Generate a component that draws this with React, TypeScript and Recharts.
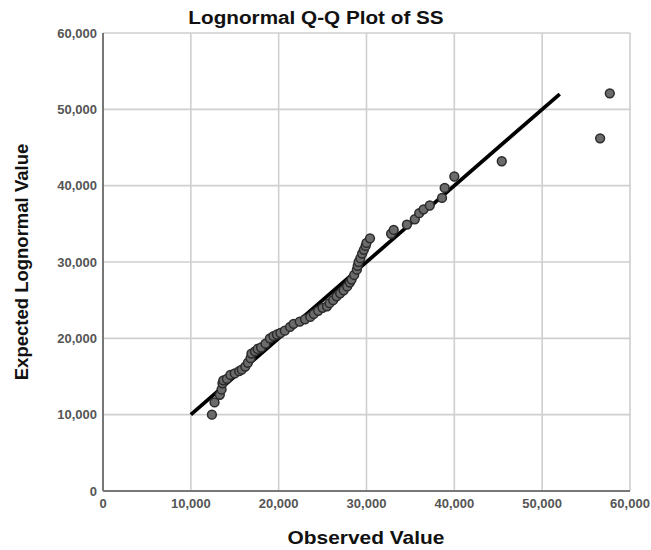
import { ScatterChart, Scatter, XAxis, YAxis, CartesianGrid, ReferenceLine } from 'recharts';

// observed SS values and the matching expected lognormal quantiles
const OBSERVED = [
  12400, 12700, 13300, 13500, 13600, 13700, 14100, 14500, 15000, 15500, 15800, 16200, 16500, 16800, 16900,
  17300, 17600, 18000, 18500, 19000, 19400, 19800, 20200, 20700, 21300, 21700, 22400, 23000, 23600, 24000,
  24500, 25000, 25500, 25800, 26200, 26600, 27000, 27400, 27800, 28100, 28300, 28600, 28900, 29000, 29100,
  29300, 29500, 29700, 29900, 30000, 30400, 32800, 33100, 34600, 35500, 36000, 36500, 37200, 38600, 38900,
  40000, 45400, 56600, 57700,
];
const EXPECTED = [
  10000, 11600, 12600, 13300, 14100, 14500, 14700, 15200, 15400, 15700, 15900, 16300, 16800, 17400, 18000,
  18300, 18600, 18800, 19300, 20000, 20300, 20500, 20700, 21000, 21500, 21900, 22200, 22500, 22800, 23200,
  23600, 24000, 24200, 24600, 25000, 25500, 25900, 26300, 26800, 27300, 27700, 28300, 29000, 29500, 30000,
  30500, 31100, 31600, 32100, 32500, 33100, 33700, 34200, 34900, 35600, 36400, 36900, 37400, 38400, 39700,
  41200, 43200, 46200, 52100,
];
const FIT_LINE = [10000, 52000];
const TICKS = [0, 10000, 20000, 30000, 40000, 50000, 60000];

const points = OBSERVED.map((x, i) => ({ x, y: EXPECTED[i] }));
const fmt = (v: number) => v.toLocaleString('en-US');
const FONT = '"Liberation Sans", Arial, sans-serif';

const Dot = (p: any) => (
  <circle cx={p.cx} cy={p.cy} r={4.4} fill="#6b6b6b" stroke="#2b2b2b" strokeWidth={1.5} />
);

export default function App() {
  const tick = { fontFamily: FONT, fontSize: 13, fontWeight: 700, fill: '#555' };
  return (
    <div style={{ position: 'fixed', left: 0, top: 0, width: 651, height: 550, background: '#fff', fontFamily: FONT, overflow: 'hidden' }}>
      <ScatterChart width={651} height={550} margin={{ top: 33, right: 21, left: 33, bottom: 29 }} style={{ overflow: 'visible' }}>
        <CartesianGrid stroke="#cfcfcf" strokeWidth={1.6} />
        <XAxis
          type="number"
          dataKey="x"
          domain={[0, 60000]}
          ticks={TICKS}
          tickFormatter={fmt}
          tick={tick}
          tickLine={false}
          tickSize={0}
          tickMargin={8}
          height={30}
          axisLine={{ stroke: '#777', strokeWidth: 2 }}
          interval={0}
        />
        <YAxis
          type="number"
          dataKey="y"
          domain={[0, 60000]}
          ticks={TICKS}
          tickFormatter={fmt}
          tick={tick}
          tickLine={false}
          tickSize={0}
          tickMargin={6}
          width={70}
          axisLine={{ stroke: '#777', strokeWidth: 2 }}
          interval={0}
        />
        <ReferenceLine
          segment={[
            { x: FIT_LINE[0], y: FIT_LINE[0] },
            { x: FIT_LINE[1], y: FIT_LINE[1] },
          ]}
          stroke="#000"
          strokeWidth={3.7}
          ifOverflow="visible"
        />
        <Scatter data={points} shape={Dot} isAnimationActive={false} />
      </ScatterChart>
      <div style={{ position: 'absolute', left: 316, top: 18, transform: 'translate(-50%,-50%) scaleX(1.15)', fontSize: 18, fontWeight: 700, color: '#111', whiteSpace: 'nowrap' }}>
        Lognormal Q-Q Plot of SS
      </div>
      <div style={{ position: 'absolute', left: 366, top: 538, transform: 'translate(-50%,-50%) scaleX(1.13)', fontSize: 18.5, fontWeight: 700, color: '#111', whiteSpace: 'nowrap' }}>
        Observed Value
      </div>
      <div style={{ position: 'absolute', left: 22, top: 262, transform: 'translate(-50%,-50%) rotate(-90deg)', fontSize: 18.5, fontWeight: 700, color: '#111', whiteSpace: 'nowrap' }}>
        Expected Lognormal Value
      </div>
    </div>
  );
}
